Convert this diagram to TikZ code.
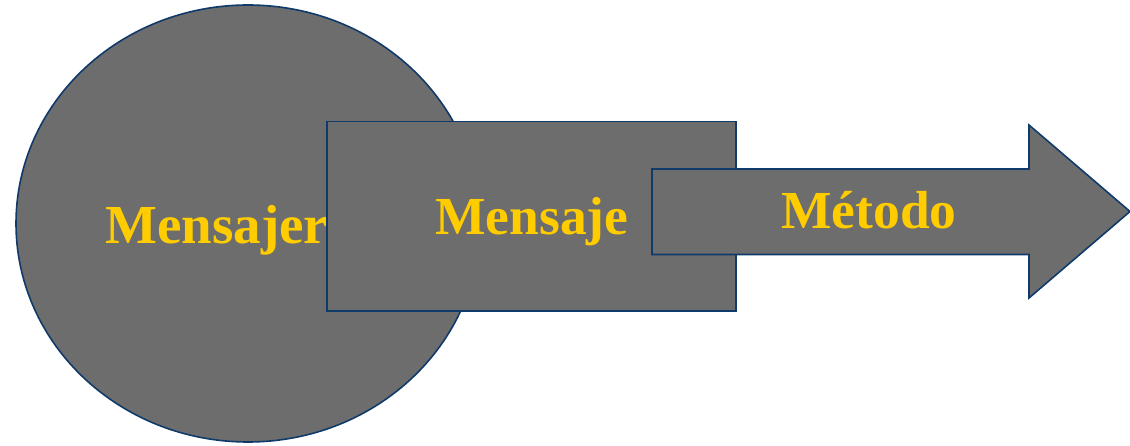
\documentclass[tikz,border=0pt]{standalone}
\usepackage{fontspec}
\setmainfont{Liberation Serif}
\definecolor{shapefill}{HTML}{6D6D6D}
\definecolor{shapeline}{HTML}{103A6A}
\definecolor{labelgold}{HTML}{FFCC00}
\tikzset{
  shapebox/.style={fill=shapefill, draw=shapeline, line width=1.6pt, line join=miter},
  goldlabel/.style={text=labelgold, font=\bfseries, inner sep=0pt, anchor=base west},
}
\begin{document}
\begin{tikzpicture}[x=1pt,y=-1pt]
\useasboundingbox (0,0) rectangle (1130,446);
% circle
\draw[shapebox] (248,223.5) ellipse [x radius=232, y radius=218.5];
\node[goldlabel, font=\fontsize{55}{60}\selectfont\bfseries] (mensajero) at (105,244) {Mensajer};
% rectangle
\draw[shapebox] (327,121.5) rectangle (736,311);
\node[goldlabel, font=\fontsize{53.5}{58}\selectfont\bfseries] (mensaje) at (435,235) {Mensaje};
% arrow
\draw[shapebox] (652,169) -- (1029,169) -- (1029,125) -- (1130,211.5) -- (1029,298) -- (1029,254.5) -- (652,254.5) -- cycle;
\node[goldlabel, font=\fontsize{53.5}{58}\selectfont\bfseries] (metodo) at (781,228.5) {Método};
\end{tikzpicture}
\end{document}
